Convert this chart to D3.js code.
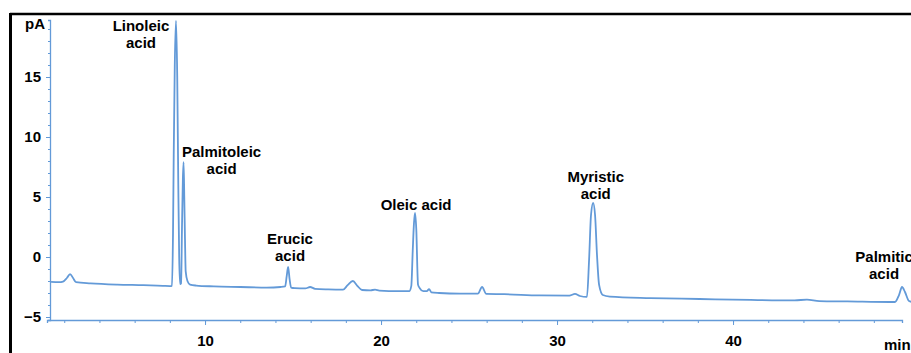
<!DOCTYPE html>
<html>
<head>
<meta charset="utf-8">
<script src="https://cdn.jsdelivr.net/npm/d3@7"></script>
<style>
  body { margin: 0; background: #fff; }
  text { font-family: "Liberation Sans", Arial, sans-serif; font-weight: bold; font-size: 15px; fill: #000; }
</style>
</head>
<body>
<div class="my-graph"></div>
<script>
// retention time (min) and detector signal (pA)
const traceTime = [
  1.25, 1.7, 1.93, 2.15, 2.33, 2.5, 2.67, 3.5, 5.0, 6.5, 7.6, 8.0, 8.12,
  8.18, 8.22, 8.28, 8.35, 8.42, 8.48, 8.53, 8.58, 8.64, 8.69, 8.74, 8.78, 8.82, 8.86, 8.9, 9.0, 9.15, 9.5,
  10.5, 12.0, 13.5, 14.3, 14.55, 14.64, 14.72, 14.8, 14.89, 15.1, 15.7, 15.97, 16.25, 17.0,
  17.84, 18.1, 18.4, 18.65, 18.92, 19.4, 19.66, 19.9, 21.0, 21.6, 21.72, 21.8, 21.87, 21.93,
  22.0, 22.1, 22.2, 22.4, 22.6, 22.73, 22.86, 23.3, 24.5, 25.5, 25.74, 25.98, 27.0, 29.0,
  30.7, 31.02, 31.3, 31.7, 31.82, 31.93, 32.05, 32.16, 32.27, 32.39, 32.6, 33.0, 35.3, 38.1,
  41.0, 43.5, 44.2, 44.9, 46.5, 48.9, 49.2, 49.43, 49.6, 49.77, 50.0, 50.2
]
const traceSignal = [
  -2.08, -2.1, -2.05, -1.75, -1.42, -1.75, -2.1, -2.2, -2.3, -2.35, -2.4, -2.42, -2.4,
  2.0, 8.5, 16.0, 19.7, 15.0, 6.0, 0.0, -2.25, -2.2, 2.5, 6.5, 7.9, 5.0, 1.5, -1.2, -2.0, -2.3, -2.38,
  -2.45, -2.5, -2.55, -2.5, -2.45, -1.6, -0.83, -1.8, -2.55, -2.6, -2.62, -2.5, -2.65, -2.7,
  -2.72, -2.35, -2.0, -2.4, -2.75, -2.78, -2.72, -2.8, -2.85, -2.85, -2.4, 0.5, 2.8, 3.67,
  2.4, -2.3, -2.6, -2.85, -2.85, -2.67, -2.95, -3.0, -3.05, -3.05, -2.5, -3.08, -3.1, -3.2,
  -3.22, -3.08, -3.25, -3.33, -0.25, 3.5, 4.5, 3.5, 0.17, -2.33, -3.17, -3.3, -3.42, -3.5,
  -3.58, -3.62, -3.55, -3.67, -3.7, -3.75, -3.75, -3.17, -2.5, -2.92, -3.67, -3.75
]

// peak names, label anchor (time, signal)
const peakNames = [["Linoleic", "acid"], ["Palmitoleic", "acid"], ["Erucic", "acid"], ["Oleic acid"], ["Myristic", "acid"], ["Palmitic", "acid"]]
const labelTime = [6.36, 10.94, 14.83, 21.99, 32.2, 48.58]
const labelSignal = [18.83, 8.33, 1.08, 3.92, 6.25, -0.42]

const yTicks = [-5, 0, 5, 10, 15]
const xTicks = [10, 20, 30, 40]

const drawGraph = () => {
  const width = 911
  const height = 353
  const blue = '#639ad8'

  // time 0 sits at x=29, 17.6 px per minute; 0 pA at y=257, 12 px per pA
  const xScale = d3.scaleLinear().domain([1.02, 49.6]).range([47, 902])
  const yScale = d3.scaleLinear().domain([-5.25, 19.75]).range([320, 20])

  const svg = d3.select('.my-graph')
    .append('svg')
    .attr('width', width)
    .attr('height', height)

  // black frame (top + left)
  svg.append('line')
    .attr('x1', 10).attr('x2', width).attr('y1', 14).attr('y2', 14)
    .attr('stroke', '#000').attr('stroke-width', 2.5)
  svg.append('line')
    .attr('x1', 10.5).attr('x2', 10.5).attr('y1', 13).attr('y2', height)
    .attr('stroke', '#000').attr('stroke-width', 3)

  // y axis, minor ticks every 1 pA
  const yAxis = svg.append('g')
    .attr('transform', `translate(${xScale(1.02) + 3}, 0)`)
    .call(d3.axisLeft(yScale).tickValues(d3.range(-5, 20, 1)).tickSize(2).tickFormat(''))
  yAxis.select('.domain').attr('stroke', blue).attr('stroke-width', 1.3)
  yAxis.selectAll('.tick line').attr('stroke', blue)

  const yMajor = svg.append('g')
    .attr('transform', `translate(${xScale(1.02) + 3}, 0)`)
    .call(d3.axisLeft(yScale).tickValues(yTicks).tickSize(4).tickPadding(5))
  yMajor.select('.domain').remove()
  yMajor.selectAll('.tick line').attr('stroke', blue)
  yMajor.selectAll('.tick text').attr('font-size', 15).attr('font-family', null)

  svg.append('text')
    .attr('x', 25)
    .attr('y', 29)
    .text('pA')

  // x axis, minor ticks every 2 min
  const xAxis = svg.append('g')
    .attr('transform', `translate(0, ${yScale(-5.25)})`)
    .call(d3.axisBottom(xScale).tickValues(d3.range(2, 50, 2)).tickSize(3).tickFormat(''))
  xAxis.select('.domain').attr('stroke', blue).attr('stroke-width', 1.3)
  xAxis.selectAll('.tick line').attr('stroke', blue)

  const xMajor = svg.append('g')
    .attr('transform', `translate(0, ${yScale(-5.25)})`)
    .call(d3.axisBottom(xScale).tickValues(xTicks).tickSize(5).tickPadding(10))
  xMajor.select('.domain').remove()
  xMajor.selectAll('.tick line').attr('stroke', blue)
  xMajor.selectAll('.tick text').attr('font-size', 15).attr('font-family', null)

  svg.append('text')
    .attr('x', 884)
    .attr('y', 350)
    .text('min')

  // the chromatogram trace
  const dataset = traceTime.map((t, i) => ({ t: t, v: traceSignal[i] }))
  const line = d3.line()
    .x(d => xScale(d.t))
    .y(d => yScale(d.v))
    .curve(d3.curveMonotoneX)

  svg.append('path')
    .datum(dataset)
    .attr('fill', 'none')
    .attr('stroke', blue)
    .attr('stroke-width', 1.8)
    .attr('stroke-linejoin', 'round')
    .attr('d', line)

  // peak labels
  const labels = svg.selectAll('.peak-label')
    .data(peakNames)
    .enter().append('text')
    .attr('class', 'peak-label')
    .attr('text-anchor', 'middle')
    .attr('x', (d, i) => xScale(labelTime[i]))
    .attr('y', (d, i) => yScale(labelSignal[i]))

  labels.selectAll('tspan')
    .data(d => d)
    .enter().append('tspan')
    .attr('x', function () { return d3.select(this.parentNode).attr('x') })
    .attr('dy', (d, i) => i === 0 ? 0 : 17)
    .text(d => d)
}

drawGraph()
</script>
</body>
</html>
